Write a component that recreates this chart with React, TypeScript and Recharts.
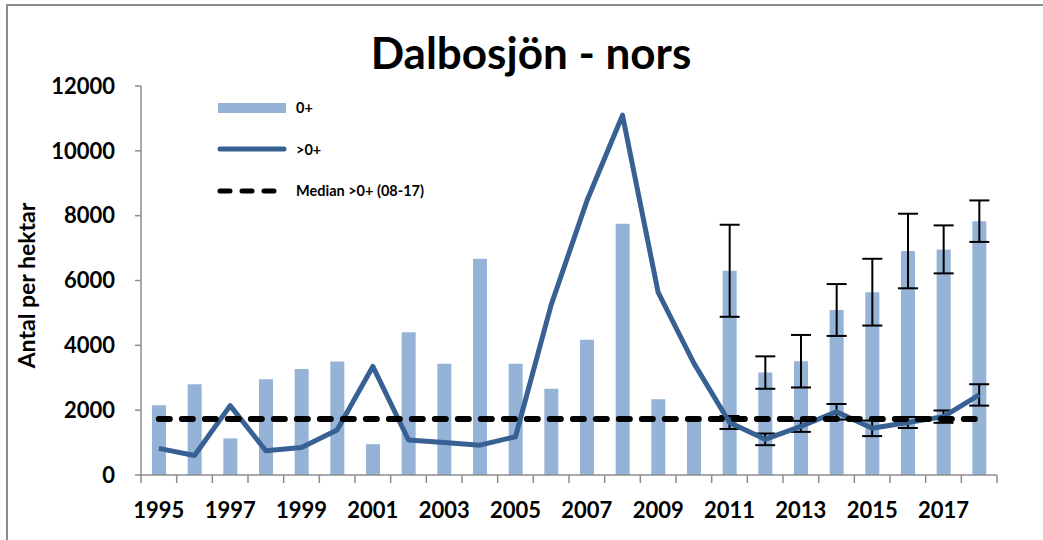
import React from 'react';
import { Bar, ComposedChart, ErrorBar, Label, Legend, Line, XAxis, YAxis } from 'recharts';

const YEARS = [
  '1995', '1996', '1997', '1998', '1999', '2000', '2001', '2002', '2003', '2004', '2005', '2006',
  '2007', '2008', '2009', '2010', '2011', '2012', '2013', '2014', '2015', '2016', '2017', '2018',
];

// 0+ (young of the year), per hectare
const AGE_0 = [
  2150, 2800, 1130, 2950, 3270, 3500, 950, 4400, 3430, 6670, 3430, 2660,
  4170, 7750, 2340, 1800, 6300, 3160, 3510, 5090, 5640, 6910, 6960, 7830,
];
const AGE_0_ERR = [
  null, null, null, null, null, null, null, null, null, null, null, null,
  null, null, null, null, 1420, 500, 810, 800, 1030, 1150, 740, 640,
];

// >0+ (older fish), per hectare
const AGE_OLDER = [
  820, 600, 2140, 750, 850, 1390, 3350, 1080, 1000, 920, 1180, 5250,
  8450, 11100, 5630, 3450, 1620, 1100, 1500, 1950, 1440, 1620, 1800, 2470,
];
const AGE_OLDER_ERR = [
  null, null, null, null, null, null, null, null, null, null, null, null,
  null, null, null, null, 200, 180, 170, 240, 240, 170, 190, 330,
];

const MEDIAN_OLDER = 1730; // median >0+ 2008-2017
const Y_TICKS = [0, 2000, 4000, 6000, 8000, 10000, 12000];

const rows = YEARS.map((year, i) => ({
  year,
  young: AGE_0[i],
  youngErr: AGE_0_ERR[i],
  older: AGE_OLDER[i],
  olderErr: AGE_OLDER_ERR[i],
  median: MEDIAN_OLDER,
}));

const FONT = 'Lato, "Open Sans", sans-serif';
const C = {
  bar: '#95b3d7',
  line: '#386193',
  median: '#000000',
  axis: '#8c8c8c',
  frame: '#8c8c8c',
};

const LEGEND = [
  { key: 'bar', label: '0+' },
  { key: 'line', label: '>0+' },
  { key: 'median', label: 'Median >0+ (08-17)' },
];

function LegendBox() {
  return (
    <div style={{ fontFamily: FONT, fontWeight: 700, fontSize: 14.5, color: '#000' }}>
      {LEGEND.map((item) => (
        <div key={item.key} style={{ display: 'flex', alignItems: 'center', height: 41.5 }}>
          <svg width={74} height={12} style={{ marginRight: 7 }}>
            {item.key === 'bar' && <rect x={3} y={1} width={68} height={10} fill={C.bar} />}
            {item.key === 'line' && (
              <line x1={5} x2={69} y1={6} y2={6} stroke={C.line} strokeWidth={5} strokeLinecap="round" />
            )}
            {item.key === 'median' && (
              <line
                x1={5}
                x2={69}
                y1={6}
                y2={6}
                stroke={C.median}
                strokeWidth={5}
                strokeLinecap="round"
                strokeDasharray="10 12"
              />
            )}
          </svg>
          <span>{item.label}</span>
        </div>
      ))}
    </div>
  );
}

function YearTick(props: any) {
  const { x, y, payload, index } = props;
  const half = payload.offset || 17.8;
  const isLast = index === YEARS.length - 1;
  return (
    <g>
      <line x1={x - half} x2={x - half} y1={y - 8} y2={y} stroke={C.axis} strokeWidth={1.5} />
      {isLast && <line x1={x + half} x2={x + half} y1={y - 8} y2={y} stroke={C.axis} strokeWidth={1.5} />}
      {index % 2 === 0 && (
        <text x={x} y={y + 35} textAnchor="middle" fontFamily={FONT} fontWeight={700} fontSize={22} fill="#000">
          {payload.value}
        </text>
      )}
    </g>
  );
}

function AxisTitle(props: any) {
  const { viewBox } = props;
  const cx = viewBox.x - 26;
  const cy = viewBox.y + viewBox.height / 2 + 5;
  return (
    <text
      x={cx}
      y={cy}
      transform={`rotate(-90, ${cx}, ${cy})`}
      textAnchor="middle"
      fontFamily={FONT}
      fontWeight={700}
      fontSize={23}
      fill="#000"
    >
      Antal per hektar
    </text>
  );
}

export default function App() {
  return (
    <div style={{ position: 'absolute', left: 0, top: 0, width: 1043, height: 540, background: '#fff', overflow: 'hidden' }}>
      <div
        style={{
          position: 'absolute',
          left: 6,
          top: 4,
          width: 1100,
          height: 600,
          borderTop: `2px solid ${C.frame}`,
          borderLeft: `2px solid ${C.frame}`,
        }}
      />
      <div
        style={{
          position: 'absolute',
          left: 0,
          width: 1062,
          top: 27,
          textAlign: 'center',
          fontFamily: FONT,
          fontWeight: 700,
          fontSize: 44,
          lineHeight: '50px',
          color: '#000',
        }}
      >
        Dalbosjön - nors
      </div>
      <ComposedChart
        width={1043}
        height={540}
        data={rows}
        margin={{ top: 86, right: 46, bottom: 25, left: 61 }}
        barCategoryGap={0}
        style={{ position: 'absolute', left: 0, top: 0 }}
      >
        <XAxis
          dataKey="year"
          interval={0}
          height={40}
          tickLine={false}
          tickSize={8}
          tickMargin={0}
          axisLine={{ stroke: C.axis, strokeWidth: 1.5 }}
          tick={<YearTick />}
        />
        <YAxis
          width={80}
          domain={[0, 12000]}
          ticks={Y_TICKS}
          interval={0}
          tickSize={6}
          tickMargin={20}
          axisLine={{ stroke: C.axis, strokeWidth: 1.5 }}
          tickLine={{ stroke: C.axis, strokeWidth: 1.5 }}
          tick={{ fill: '#000', fontFamily: FONT, fontWeight: 700, fontSize: 22 }}
        >
          <Label content={<AxisTitle />} />
        </YAxis>
        <Legend
          layout="vertical"
          align="center"
          verticalAlign="middle"
          content={<LegendBox />}
          wrapperStyle={{ left: 215, top: 87, width: 280, height: 125 }}
        />
        <Bar dataKey="young" name="0+" fill={C.bar} barSize={14} isAnimationActive={false}>
          <ErrorBar dataKey="youngErr" width={10} stroke="#000" strokeWidth={2} />
        </Bar>
        <Line
          dataKey="older"
          name=">0+"
          stroke={C.line}
          strokeWidth={5}
          strokeLinejoin="round"
          dot={false}
          activeDot={false}
          isAnimationActive={false}
        >
          <ErrorBar dataKey="olderErr" width={10} stroke="#000" strokeWidth={2} />
        </Line>
        <Line
          dataKey="median"
          name="Median >0+ (08-17)"
          stroke={C.median}
          strokeWidth={6}
          strokeLinecap="round"
          strokeDasharray="11 12"
          dot={false}
          activeDot={false}
          isAnimationActive={false}
        />
      </ComposedChart>
    </div>
  );
}
